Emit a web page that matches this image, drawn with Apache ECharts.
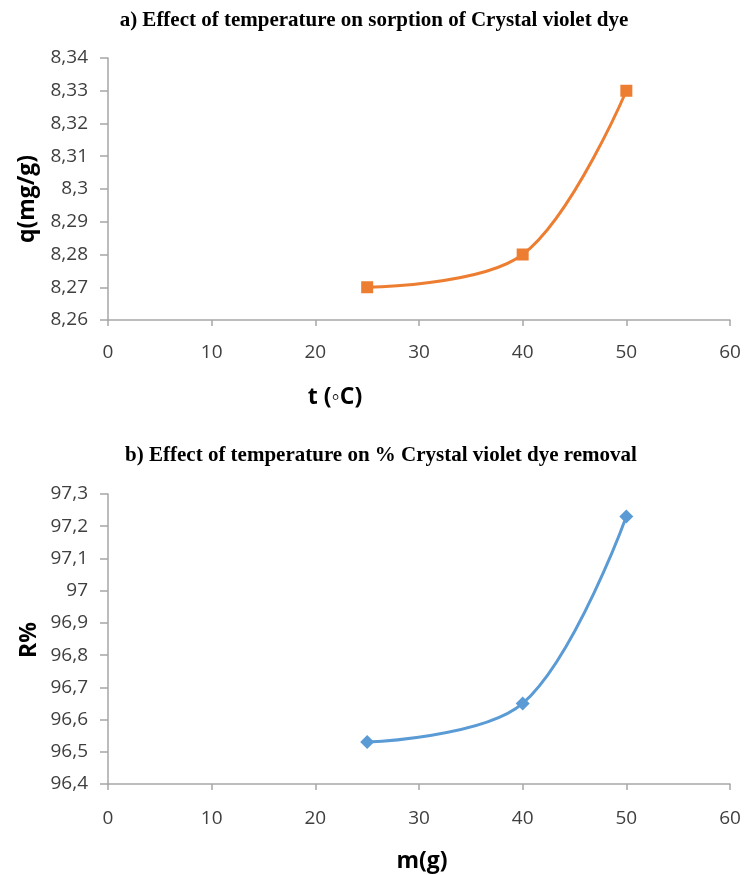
<!DOCTYPE html>
<html><head><meta charset="utf-8">
<script src="https://cdn.jsdelivr.net/npm/echarts@6/dist/echarts.min.js"></script>
<style>html,body{margin:0;padding:0;background:#fff}#c{width:748px;height:875px}</style>
</head><body><div id="c"></div>
<script>
const titleA = 'a) Effect of temperature on sorption of Crystal violet dye';
const titleB = 'b) Effect of temperature on % Crystal violet dye removal';
const temperatureA = [25, 40, 50];
const sorptionQ = [8.27, 8.28, 8.33];
const temperatureB = [25, 40, 50];
const removalR = [96.53, 96.65, 97.23];
const xTicks = {min: 0, max: 60, interval: 10};
const yTicksA = {min: 8.26, max: 8.34, interval: 0.01};
const yTicksB = {min: 96.4, max: 97.3, interval: 0.1};
const axisNames = {qy: 'q(mg/g)', tx: 't (\u25E6C)', ry: 'R%', mx: 'm(g)'};

const fmt = d => v => parseFloat(v.toFixed(d)).toString().replace('.', ',');
const labelStyle = {color: '#3f3f3f', fontSize: 19, fontFamily: 'Open Sans'};
const axisLine = {show: true, lineStyle: {color: '#a6a6a6', width: 1.5}};
const xTick = {show: true, length: 6, inside: false, lineStyle: {color: '#a6a6a6', width: 1.5}};
const yTick = {show: true, length: 8, inside: false, lineStyle: {color: '#a6a6a6', width: 1.5}};
const titleStyle = {fontFamily: 'Liberation Serif', fontWeight: 'bold', fontSize: 21, color: '#000'};
const nameFont = 'bold 23px "Open Sans"';

const chart = echarts.init(document.getElementById('c'));
chart.setOption({
  animation: false,
  title: [
    {text: titleA, left: 369, top: 5, textAlign: 'center', textStyle: titleStyle},
    {text: titleB, left: 376, top: 440, textAlign: 'center', textStyle: titleStyle}
  ],
  grid: [
    {left: 108, right: 18, top: 58, height: 262},
    {left: 108, right: 18, top: 494, height: 290}
  ],
  xAxis: [
    {gridIndex: 0, type: 'value', min: xTicks.min, max: xTicks.max, interval: xTicks.interval,
     axisLine, axisTick: xTick, splitLine: {show: false}, axisLabel: Object.assign({margin: 23}, labelStyle)},
    {gridIndex: 1, type: 'value', min: xTicks.min, max: xTicks.max, interval: xTicks.interval,
     axisLine, axisTick: xTick, splitLine: {show: false}, axisLabel: Object.assign({margin: 25}, labelStyle)}
  ],
  yAxis: [
    {gridIndex: 0, type: 'value', min: yTicksA.min, max: yTicksA.max, interval: yTicksA.interval,
     axisLine, axisTick: yTick, splitLine: {show: false},
     axisLabel: Object.assign({margin: 20, formatter: fmt(2)}, labelStyle)},
    {gridIndex: 1, type: 'value', min: yTicksB.min, max: yTicksB.max, interval: yTicksB.interval,
     axisLine, axisTick: yTick, splitLine: {show: false},
     axisLabel: Object.assign({margin: 20, formatter: fmt(1)}, labelStyle)}
  ],
  graphic: [
    {type: 'text', x: 27, y: 199, rotation: Math.PI / 2,
     style: {text: axisNames.qy, font: nameFont, fill: '#000', textAlign: 'center', textVerticalAlign: 'middle'}},
    {type: 'text', x: 335, y: 397,
     style: {text: axisNames.tx, font: nameFont, fill: '#000', textAlign: 'center', textVerticalAlign: 'middle'}},
    {type: 'text', x: 29, y: 640, rotation: Math.PI / 2,
     style: {text: axisNames.ry, font: nameFont, fill: '#000', textAlign: 'center', textVerticalAlign: 'middle'}},
    {type: 'text', x: 422, y: 861,
     style: {text: axisNames.mx, font: nameFont, fill: '#000', textAlign: 'center', textVerticalAlign: 'middle'}}
  ],
  series: [
    {type: 'line', xAxisIndex: 0, yAxisIndex: 0, smooth: 0.35,
     data: temperatureA.map((t, i) => [t, sorptionQ[i]]),
     symbol: 'rect', symbolSize: 12,
     lineStyle: {color: '#ED7D31', width: 3}, itemStyle: {color: '#ED7D31'}},
    {type: 'line', xAxisIndex: 1, yAxisIndex: 1, smooth: 0.35,
     data: temperatureB.map((t, i) => [t, removalR[i]]),
     symbol: 'diamond', symbolSize: 14,
     lineStyle: {color: '#5B9BD5', width: 3}, itemStyle: {color: '#5B9BD5'}}
  ]
});
</script></body></html>
